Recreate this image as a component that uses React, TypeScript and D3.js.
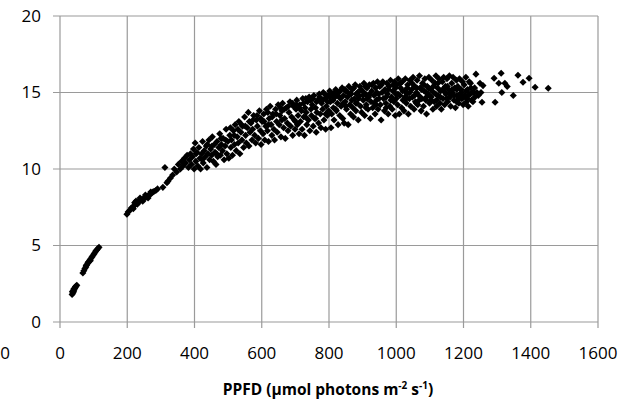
import React from "react";
import * as d3 from "d3";

const xTicks = [0, 200, 400, 600, 800, 1000, 1200, 1400, 1600];
const yTicks = [0, 5, 10, 15, 20];

// PPFD (µmol photons m-2 s-1), net assimilation
const lowLight: [number, number][] = [
  [36, 1.8], [37, 2.0], [38, 1.9], [39, 1.95], [40, 2.0], [41, 2.15], [42, 2.1], [44, 2.2], [45, 2.25], [46, 2.3], [48, 2.35], [50, 2.4],
  [68, 3.2], [71, 3.35], [74, 3.5], [77, 3.6], [78, 3.7], [80, 3.75], [83, 3.85], [84, 3.9], [86, 3.95], [89, 4.05],
  [90, 4.0], [92, 4.15], [95, 4.25], [98, 4.35], [101, 4.45], [104, 4.55], [107, 4.65], [110, 4.72], [113, 4.8], [116, 4.88],
];

const midLight: [number, number][] = [
  [199, 7.05], [203, 7.2], [208, 7.3], [212, 7.45], [216, 7.5], [218, 7.4], [220, 7.6], [222, 7.8], [224, 7.7], [226, 7.9],
  [228, 7.75], [230, 7.7], [232, 7.85], [236, 7.9], [238, 8.1], [240, 7.95], [244, 8.0], [246, 7.9], [248, 8.05], [252, 8.1],
  [254, 8.3], [256, 8.15], [260, 8.2], [262, 8.1], [264, 8.3], [268, 8.35], [270, 8.5], [272, 8.4], [276, 8.5], [280, 8.55],
  [285, 8.6], [290, 8.7],
  [306, 8.8], [312, 10.1], [318, 9.1], [321, 9.2], [328, 9.4], [335, 9.6], [340, 10.0], [347, 9.8], [352, 10.3], [358, 10.0],
  [362, 10.5], [366, 10.2], [370, 10.7], [374, 10.4], [378, 10.9], [382, 10.1], [385, 10.6], [388, 11.0], [391, 10.3], [394, 10.8],
  [397, 11.3], [399, 10.0], [402, 11.7], [404, 10.5], [407, 11.1], [410, 10.2],
  [413, 11.4], [416, 10.7], [418, 10.0], [421, 11.0], [424, 11.8], [426, 10.4], [429, 11.2], [432, 10.8], [435, 11.5], [437, 10.1],
  [440, 11.0], [443, 11.9], [445, 10.6], [448, 11.3], [451, 10.9], [453, 12.1], [456, 10.5], [459, 11.6], [461, 11.1], [464, 10.3],
  [467, 11.8], [469, 10.8], [472, 11.4], [475, 12.3], [477, 10.9], [480, 11.6], [483, 11.2], [485, 12.0], [488, 10.6], [491, 11.5],
  [494, 12.6], [496, 11.0], [499, 11.8],
  [502, 10.7], [505, 12.2], [508, 11.4], [510, 11.9], [513, 10.9], [516, 12.5], [519, 11.6], [521, 12.9], [524, 11.2], [527, 12.1],
  [530, 11.7], [532, 13.1], [535, 11.0], [538, 12.4], [541, 11.9], [543, 12.8], [546, 11.4], [549, 13.4], [552, 12.2], [554, 11.7],
  [557, 12.7], [560, 13.7], [562, 11.5], [565, 12.4], [568, 13.0], [571, 11.9], [573, 12.6], [576, 13.5], [579, 12.2], [582, 11.7],
  [584, 13.2], [587, 12.8], [590, 12.0], [593, 13.8], [596, 12.5], [598, 11.6],
  [601, 13.1], [604, 12.3], [606, 13.6], [609, 11.9], [612, 12.8], [614, 13.9], [617, 12.5], [620, 11.8], [622, 13.3], [625, 14.1],
  [628, 12.9], [630, 12.2], [633, 13.6], [636, 12.6], [638, 11.9], [641, 13.9], [644, 13.1], [646, 12.4], [649, 14.2], [652, 12.9],
  [654, 13.5], [657, 12.1], [660, 13.8], [662, 14.3], [665, 12.7], [668, 13.3], [670, 12.0], [673, 14.0], [676, 13.0], [678, 12.5],
  [681, 13.7], [684, 14.4], [686, 12.8], [689, 13.4], [692, 12.2], [694, 14.1], [697, 13.2], [699, 12.6],
];

const highLight: [number, number][] = [
  [702, 13.9], [704, 14.5], [706, 12.9], [708, 13.5], [711, 12.3], [713, 14.2], [715, 13.1], [718, 13.8], [720, 12.6], [722, 14.6],
  [725, 13.4], [727, 12.2], [729, 14.0], [732, 13.7], [734, 12.9], [736, 14.4], [739, 13.2], [741, 14.7], [743, 12.5], [746, 13.9],
  [748, 13.5], [750, 14.2], [753, 12.8], [755, 14.8], [757, 13.3], [760, 14.0], [762, 12.4], [764, 13.7], [767, 14.5], [769, 13.0],
  [771, 14.9], [774, 13.6], [776, 12.7], [778, 14.3], [781, 13.9], [783, 15.0], [785, 13.2], [788, 14.6], [790, 12.6], [792, 14.1],
  [795, 13.5], [797, 14.8], [799, 13.8],
  [802, 15.1], [804, 14.4], [806, 12.7], [808, 13.6], [811, 14.9], [813, 14.0], [815, 13.2], [818, 14.7], [820, 15.2], [822, 13.8],
  [825, 14.3], [827, 12.9], [829, 15.0], [832, 13.5], [834, 14.6], [836, 14.1], [839, 15.3], [841, 13.3], [843, 14.8], [845, 13.0],
  [848, 14.4], [850, 15.1], [852, 13.9], [855, 14.7], [857, 12.9], [859, 15.4], [862, 14.2], [864, 13.6], [866, 14.9], [869, 15.2],
  [871, 14.0], [873, 13.4], [876, 14.6], [878, 15.5], [880, 13.8], [883, 14.3], [885, 15.0], [887, 13.2], [890, 14.8], [892, 15.4],
  [894, 14.1], [897, 13.7], [899, 15.1],
  [902, 14.5], [904, 15.6], [906, 13.5], [909, 14.9], [911, 14.2], [913, 15.3], [916, 13.9], [918, 14.7], [920, 15.5], [923, 13.3],
  [925, 14.4], [927, 15.1], [930, 14.0], [932, 15.6], [934, 14.8], [937, 13.6], [939, 15.3], [941, 14.5], [944, 15.7], [946, 13.9],
  [948, 14.9], [951, 15.4], [953, 14.2], [955, 13.2], [958, 15.0], [960, 15.7], [962, 14.6], [965, 13.8], [967, 15.2], [969, 14.3],
  [972, 15.6], [974, 14.9], [976, 13.6], [979, 15.4], [981, 14.1], [983, 15.8], [986, 14.7], [988, 13.9], [990, 15.1], [993, 14.4],
  [995, 15.7], [997, 13.5], [999, 14.9],
  [1002, 15.5], [1004, 14.2], [1006, 15.9], [1009, 13.6], [1011, 14.8], [1013, 15.3], [1016, 14.0], [1018, 15.7], [1020, 14.5], [1023, 13.8],
  [1025, 15.1], [1027, 15.9], [1030, 14.3], [1032, 14.9], [1034, 15.5], [1036, 13.6], [1039, 14.6], [1041, 15.8], [1043, 14.1], [1046, 15.2],
  [1048, 14.7], [1050, 16.0], [1053, 13.9], [1055, 15.4], [1057, 14.4], [1060, 15.0], [1062, 15.8], [1064, 14.2], [1067, 14.8], [1069, 16.1],
  [1071, 15.3], [1074, 13.8], [1076, 14.6], [1078, 15.6], [1081, 14.1], [1083, 15.1], [1085, 15.9], [1088, 14.5], [1090, 13.6], [1092, 15.4],
  [1095, 14.9], [1097, 16.0], [1099, 14.3],
  [1102, 15.2], [1104, 14.7], [1106, 15.8], [1109, 13.9], [1111, 15.0], [1113, 14.4], [1116, 15.6], [1118, 16.1], [1120, 14.1], [1123, 15.3],
  [1125, 14.8], [1127, 15.9], [1130, 14.3], [1132, 15.1], [1134, 13.9], [1137, 15.7], [1139, 14.6], [1141, 16.0], [1144, 14.2], [1146, 15.4],
  [1148, 14.9], [1151, 15.9], [1153, 14.4], [1155, 15.2], [1158, 16.1], [1160, 14.7], [1162, 14.1], [1165, 15.6], [1167, 15.0], [1169, 16.0],
  [1172, 14.5], [1174, 15.3], [1176, 14.0], [1179, 15.8], [1181, 14.8], [1183, 15.4], [1186, 14.3], [1188, 15.9], [1190, 14.9], [1193, 15.2],
  [1195, 14.6], [1197, 15.7], [1199, 14.2],
  [1202, 15.5], [1204, 14.8], [1207, 16.0], [1209, 14.4], [1212, 15.2], [1214, 14.1], [1217, 15.7], [1219, 14.9], [1222, 15.3], [1224, 14.5],
  [1228, 14.4], [1231, 15.0], [1234, 14.7], [1237, 16.2], [1240, 15.0], [1249, 15.6], [1255, 14.36], [1258, 15.45],
  [1291, 15.93], [1294, 14.36], [1305, 15.6], [1312, 16.26], [1314, 15.0], [1323, 15.6], [1330, 15.4], [1348, 14.8],
  [1362, 16.13], [1377, 15.67], [1395, 15.93], [1413, 15.34], [1452, 15.28],
];

// additional readings filling the dense core of the cloud
const coreLight: [number, number][] = [
  [405, 11.0], [423, 10.6], [438, 11.6], [452, 11.5], [466, 11.0], [479, 12.0], [493, 11.9], [507, 12.7], [518, 12.2], [529, 12.6],
  [540, 12.9], [551, 12.8], [563, 13.1], [574, 13.2], [586, 13.5], [597, 13.3], [607, 13.1], [618, 13.7], [631, 13.4], [643, 13.6],
  [656, 14.0], [667, 13.9], [679, 14.1], [691, 14.3], [703, 14.2], [712, 14.0], [724, 14.3], [731, 14.6], [744, 14.5], [752, 14.6],
  [763, 14.4], [772, 14.7], [780, 14.5], [787, 14.9], [796, 14.4], [803, 14.7], [812, 14.5], [817, 15.0], [826, 14.8], [833, 15.1],
  [842, 14.3], [847, 15.2], [856, 15.0], [863, 14.9], [868, 14.5], [874, 15.3], [882, 14.9], [888, 14.6], [895, 15.2], [901, 14.8],
  [908, 15.4], [914, 14.6], [921, 14.9], [928, 15.5], [935, 14.3], [942, 15.0], [949, 14.6], [956, 15.5], [963, 15.1], [970, 14.7],
  [977, 15.2], [984, 14.5], [991, 15.5], [998, 15.3], [1005, 14.9], [1012, 15.6], [1019, 15.1], [1026, 14.7], [1033, 15.3], [1040, 15.0],
  [1047, 15.6], [1054, 14.8], [1061, 15.3], [1068, 14.5], [1075, 15.2], [1082, 15.5], [1089, 15.0], [1096, 15.3], [1103, 14.5], [1110, 15.4],
  [1117, 14.9], [1124, 15.6], [1131, 14.7], [1138, 15.2], [1145, 15.0], [1152, 15.4], [1159, 14.9], [1166, 15.2], [1173, 14.8], [1180, 15.2],
  [1187, 14.6], [1194, 15.0], [1201, 14.7], [1208, 15.1], [1215, 14.8], [1221, 15.6], [1226, 15.0], [1233, 15.3], [1244, 14.8], [1252, 15.0],
  [760, 13.3], [790, 13.6], [820, 13.9], [850, 14.1], [880, 14.3], [910, 14.0], [940, 14.2], [970, 14.0], [1000, 14.6], [1030, 14.6],
  [1060, 14.3], [1090, 14.7], [1120, 14.5], [1150, 14.6], [1180, 14.4], [1210, 14.6], [700, 13.1], [730, 13.4], [660, 13.2], [620, 12.9],
];

const W = 629;
const H = 402;
const left = 60;
const right = 598;
const top = 16;
const bottom = 322;
const gridColor = "#9a9a9a";
const font = "'Open Sans', 'Noto Sans', sans-serif";

export default function App() {
  const x = d3.scaleLinear().domain([0, 1600]).range([left, right]);
  const y = d3.scaleLinear().domain([0, 20]).range([bottom, top]);
  const marker = d3.symbol().type(d3.symbolSquare).size(25)() as string;
  const points = [...lowLight, ...midLight, ...highLight, ...coreLight];

  return (
    <svg
      width={W}
      height={H}
      style={{ position: "absolute", left: 0, top: 0, background: "#fff" }}
    >
      <rect x={0} y={0} width={W} height={H} fill="#fff" />
      {yTicks.map((t) => (
        <g key={"y" + t}>
          <line x1={left - 7} x2={right} y1={y(t)} y2={y(t)} stroke={gridColor} strokeWidth={1.2} />
          <text
            x={41}
            y={y(t)}
            dy="0.35em"
            textAnchor="end"
            fontFamily={font}
            fontSize={17}
            fill="#000"
          >
            {t}
          </text>
        </g>
      ))}
      {xTicks.map((t) => (
        <g key={"x" + t}>
          <line x1={x(t)} x2={x(t)} y1={top} y2={bottom + 6} stroke={gridColor} strokeWidth={1.2} />
          <text
            x={x(t)}
            y={353}
            dy="0.35em"
            textAnchor="middle"
            fontFamily={font}
            fontSize={17}
            fill="#000"
          >
            {t}
          </text>
        </g>
      ))}
      <text x={5} y={353} dy="0.35em" textAnchor="middle" fontFamily={font} fontSize={17} fill="#000">
        0
      </text>
      <g>
        {points.map((p, i) => (
          <path
            key={i}
            d={marker}
            transform={`translate(${x(p[0])},${y(p[1])}) rotate(45)`}
            fill="#000"
          />
        ))}
      </g>
      <text
        x={328}
        y={395}
        textAnchor="middle"
        fontFamily={font}
        fontSize={15.5}
        fontWeight="bold"
        fill="#000"
      >
        PPFD (µmol photons m
        <tspan dy={-6} fontSize={10}>-2</tspan>
        <tspan dy={6}> s</tspan>
        <tspan dy={-6} fontSize={10}>-1</tspan>
        <tspan dy={6}>)</tspan>
      </text>
    </svg>
  );
}
